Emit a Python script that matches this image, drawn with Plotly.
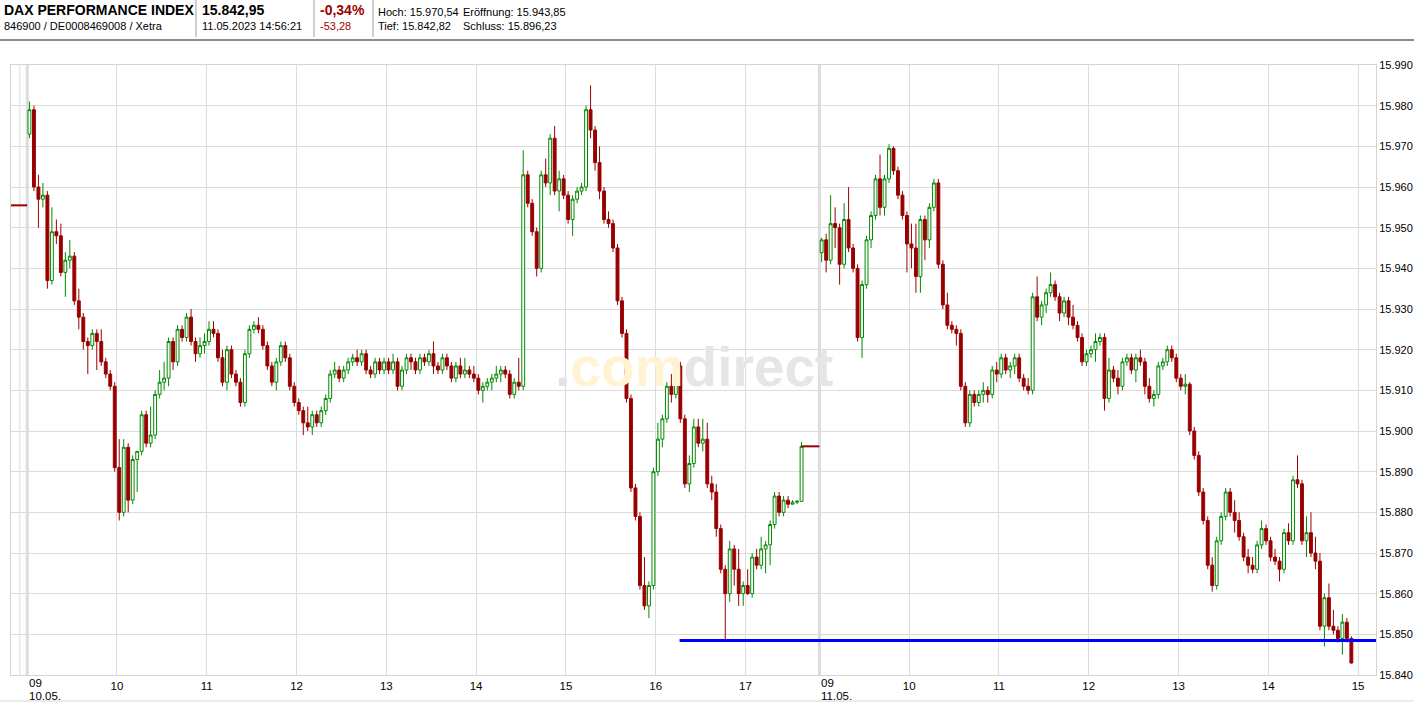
import plotly.graph_objects as go

# ---------------- data (3-minute candles) ----------------
prev_close = 15955.49          # close of 09.05. (flat line before the open)
day1_label = "10.05."
day2_label = "11.05."
day1_open = 15973
day2_open = 15943.85
day1_close_auction = 15896.23
support_level = 15848.5
support_start = "16:16"        # start of the blue support line on day 1

close_d1 = [15979,15960,15957,15958,15937,15949,15948,15939,15942,15943,
            15932,15928,15922,15921,15924,15922,15917,15914,15911,15891,
            15880,15896,15883,15893,15895,15904,15897,15899,15909,15912,
            15913,15922,15917,15925,15923,15928,15922,15919,15921,15922,
            15925,15924,15918,15912,15920,15914,15912,15907,15919,15925,
            15926,15925,15921,15916,15912,15917,15921,15918,15911,15907,
            15905,15902,15901,15904,15902,15905,15908,15914,15915,15913,
            15915,15917,15918,15917,15919,15915,15914,15917,15915,15917,
            15915,15917,15911,15915,15918,15917,15915,15918,15917,15919,
            15916,15915,15918,15916,15913,15916,15914,15915,15914,15913,
            15910,15911,15912,15913,15914,15915,15914,15909,15912,15911,
            15963,15956,15949,15940,15963,15961,15972,15959,15962,15958,
            15952,15957,15959,15960,15979,15974,15966,15959,15952,15951,
            15945,15932,15924,15908,15886,15879,15862,15857,15862,15890,
            15898,15903,15911,15909,15916,15903,15887,15892,15901,15897,
            15898,15887,15885,15876,15866,15860,15871,15866,15860,15862,
            15860,15869,15867,15871,15872,15877,15884,15880,15883,15882,
            15882.5,15882.7,15896.23]
high_d1 = [15981,15980,15963,15961,15959,15955,15952,15951,15944,15947,
           15944,15935,15929,15923,15925,15925,15925,15918,15915,15912,
           15898,15898,15897,15894,15895,15905,15905,15906,15910,15915,
           15917,15923,15923,15926,15926,15929,15930,15923,15923,15924,
           15927,15927,15925,15920,15921,15921,15915,15913,15920,15926,
           15927,15928,15926,15922,15917,15918,15922,15922,15919,15912,
           15908,15906,15906,15905,15905,15906,15909,15915,15917,15916,
           15916,15918,15919,15920,15920,15920,15916,15918,15918,15918,
           15918,15919,15918,15916,15919,15919,15918,15919,15919,15920,
           15922,15917,15919,15919,15917,15917,15918,15918,15916,15916,
           15914,15912,15913,15914,15916,15916,15916,15915,15913,15918,
           15969,15964,15957,15950,15964,15967,15973,15975,15964,15963,
           15959,15958,15960,15961,15980,15985,15975,15970,15960,15954,
           15952,15946,15933,15925,15909,15887,15880,15869,15863,15891,
           15902,15904,15912,15914,15918,15917,15904,15894,15903,15903,
           15903,15902,15889,15887,15877,15867,15873,15872,15871,15863,
           15866,15870,15871,15874,15873,15878,15885,15885,15884,15884,
           15883,15883,15897.3]
low_d1 = [15972,15959,15950,15955,15935,15936,15946,15938,15933,15940,
          15931,15925,15920,15914,15920,15915,15916,15913,15910,15890,
          15878,15879,15880,15882,15885,15894,15896,15896,15898,15908,
          15910,15911,15915,15916,15922,15922,15921,15917,15918,15919,
          15921,15923,15917,15911,15910,15913,15911,15906,15906,15918,
          15924,15924,15920,15915,15911,15910,15916,15917,15910,15906,
          15904,15899,15900,15899,15901,15901,15904,15907,15913,15912,
          15912,15914,15916,15916,15916,15914,15913,15913,15914,15914,
          15914,15914,15910,15910,15914,15915,15914,15914,15916,15916,
          15914,15914,15914,15915,15912,15912,15913,15913,15913,15912,
          15909,15907,15910,15910,15912,15912,15913,15908,15908,15910,
          15910,15955,15948,15938,15939,15960,15958,15958,15954,15957,
          15951,15948,15956,15958,15959,15972,15964,15957,15951,15950,
          15944,15931,15923,15907,15885,15878,15861,15856,15854,15861,
          15889,15896,15902,15907,15908,15902,15886,15885,15891,15896,
          15895,15886,15883,15874,15865,15848.6,15858,15862,15857,15857,
          15859.7,15859,15866,15866,15865,15867,15876,15879,15879,15881,
          15882,15882,15882.7]

close_d2 = [15947,15942,15951,15950,15941,15952,15945,15940,15923,15936,
            15947,15953,15962,15955,15962,15969.5,15964,15958,15953,15946,
            15945,15938,15952,15947,15955,15961,15941,15931,15926,15925,
            15924,15911,15902,15909,15907,15909,15910,15909,15915,15914,
            15918,15915,15916,15918,15913,15911,15910,15933,15928,15931,
            15934,15936,15933,15929,15932,15928,15926,15923,15917,15919,
            15920,15922,15923,15908,15915,15913,15911,15917,15918,15915,
            15918,15917,15911,15908,15909,15916,15917,15920,15918,15913,
            15911,15911.5,15900,15894,15885,15878,15867,15862,15873,15879,
            15885,15880,15878,15874,15869,15867,15866,15872,15876,15873,
            15869,15868,15866,15875,15873,15888,15887,15873,15875,15870,
            15868,15852,15859,15852,15851,15849,15853,15849,15842.95]
high_d2 = [15947.5,15948.5,15958,15955,15951,15956,15960,15946,15941,15937,
           15948,15954,15963,15968,15963,15970.5,15970,15965,15959,15954,
           15951,15951,15953,15953,15956,15962,15962,15942,15934,15927,
           15926,15925,15912,15910,15910,15910,15912,15911,15916,15917,
           15919,15919,15917,15919,15919,15914,15913,15934,15938,15932,
           15935,15939,15937,15934,15933,15933,15931,15927,15924,15920,
           15921,15924,15924,15924,15918,15916,15915,15918,15919,15919,
           15919,15920,15918,15913,15910,15917,15918,15921,15921,15919,
           15914,15914,15912,15901,15895,15886,15879,15869,15874,15880,
           15886,15886,15883,15880,15875,15871,15869,15873,15878,15877,
           15874,15871,15869,15876,15877.3,15889,15894,15888,15879,15880,
           15874,15870,15860,15862.5,15856,15852,15855,15854,15849.5]
low_d2 = [15941.5,15939,15941,15945,15936,15940,15944,15939,15922,15918,
          15935,15945,15952,15953,15953,15961,15963,15957,15952,15939,
          15940,15934,15934,15942,15945,15954,15940,15930,15925,15924,
          15921,15910,15901,15901,15906,15906,15907,15907,15908,15912,
          15913,15914,15913,15914,15912,15910,15909,15909,15927,15926,
          15929,15933,15932,15927,15928,15926,15925,15922,15916,15916,
          15918,15917,15921,15905,15907,15912,15909,15910,15916,15914,
          15912,15916,15909,15907,15906,15908,15915,15916,15917,15912,
          15910,15909,15899,15893,15884,15877,15866,15860.5,15861,15872,
          15878,15879,15875,15873,15868,15865,15865,15865,15871,15872,
          15868,15867,15863,15865,15872,15872,15886,15872,15869,15869,
          15866,15851,15847,15851,15850,15848,15845,15848,15842.82]

day1_hours = [10, 11, 12, 13, 14, 15, 16, 17]
day2_hours = [10, 11, 12, 13, 14, 15]
y_ticks = list(range(15840, 15991, 10))

header_name = "DAX PERFORMANCE INDEX"
header_ids = "846900 / DE0008469008 / Xetra"
header_last = "15.842,95"
header_time = "11.05.2023 14:56:21"
header_pct = "-0,34%"
header_abs = "-53,28"
header_hoch = "Hoch: 15.970,54"
header_eroeff = "Eröffnung: 15.943,85"
header_tief = "Tief: 15.842,82"
header_schluss = "Schluss: 15.896,23"

# ---------------- layout constants ----------------
W, H = 1414, 703
ML, MR, MT, MB = 11, 38, 65, 28
PW, PH = W - ML - MR, H - MT - MB
CANDLE_MIN = 3
DAY2_OFFSET = 8.824           # compressed overnight gap (hours on the axis)
X_MIN, X_MAX = -0.1804, 15.0234
FONT = "Liberation Sans, Arial, sans-serif"
GREEN = "#008a00"
RED = "#990000"
GRID = "#dcdcdc"


def px_x(px):
    return (px - ML) / PW


def px_y(py):
    return (H - MB - py) / PH


def x_pos(day_offset, n):
    return [day_offset + (i * CANDLE_MIN + CANDLE_MIN / 2) / 60 for i in range(n)]


x1 = x_pos(0.0, len(close_d1))
x2 = x_pos(DAY2_OFFSET, len(close_d2))
open_d1 = [day1_open] + close_d1[:-1]
open_d2 = [day2_open] + close_d2[:-1]

fig = go.Figure()

# watermark (drawn first, beneath the candles)
fig.add_trace(go.Scatter(
    x=[7.43], y=[15914.5], mode="text",
    text=['<span style="color:#e3e3e3">.</span><span style="color:#fff3d4">com</span>'
          '<span style="color:#e6e6e6">direct</span>'],
    textposition="middle center",
    textfont=dict(family=FONT, size=55, weight="bold"),
    hoverinfo="skip", showlegend=False))

# previous close flat line
fig.add_trace(go.Scatter(x=[X_MIN, 0], y=[prev_close, prev_close], mode="lines",
                         line=dict(color=RED, width=2), hoverinfo="skip", showlegend=False))
# closing flat line after the auction
fig.add_trace(go.Scatter(x=[x1[-1], DAY2_OFFSET], y=[day1_close_auction, day1_close_auction],
                         mode="lines", line=dict(color=RED, width=2),
                         hoverinfo="skip", showlegend=False))

fig.add_trace(go.Candlestick(
    x=x1 + x2,
    open=open_d1 + open_d2,
    high=high_d1 + high_d2,
    low=low_d1 + low_d2,
    close=close_d1 + close_d2,
    increasing=dict(line=dict(color=GREEN, width=1), fillcolor="#ffffff"),
    decreasing=dict(line=dict(color=RED, width=1), fillcolor=RED),
    whiskerwidth=0, showlegend=False, hoverinfo="skip"))

# blue support line
hh, mm = support_start.split(":")
sup_x0 = int(hh) - 9 + int(mm) / 60
fig.add_trace(go.Scatter(x=[sup_x0, X_MAX], y=[support_level, support_level], mode="lines",
                         line=dict(color="#0000ff", width=3), hoverinfo="skip", showlegend=False))

tickvals = [h - 9 for h in day1_hours] + [DAY2_OFFSET + h - 9 for h in day2_hours]
ticktext = [f"{h:02d}" for h in day1_hours] + [f"{h:02d}" for h in day2_hours]

shapes = []
# day separators
for xd in (0.0, DAY2_OFFSET):
    shapes.append(dict(type="line", xref="x", yref="paper", x0=xd, x1=xd, y0=0, y1=1,
                       line=dict(color=GRID, width=3), layer="below"))
shapes.append(dict(type="line", xref="x", yref="paper", x0=-0.082, x1=-0.082, y0=0, y1=1,
                   line=dict(color=GRID, width=1), layer="below"))
# header frame lines
shapes.append(dict(type="line", xref="paper", yref="paper", x0=px_x(0), x1=px_x(W),
                   y0=px_y(40), y1=px_y(40), line=dict(color="#8c8c8c", width=2)))
for sx in (196, 314, 373):
    shapes.append(dict(type="line", xref="paper", yref="paper", x0=px_x(sx), x1=px_x(sx),
                       y0=px_y(0), y1=px_y(37), line=dict(color="#a0a0a0", width=1)))
shapes.append(dict(type="line", xref="paper", yref="paper", x0=px_x(0), x1=px_x(W),
                   y0=px_y(701), y1=px_y(701), line=dict(color="#d8d8d8", width=1)))

ann = []


def text(px, py, s, size=11, color="#000", bold=False):
    ann.append(dict(xref="paper", yref="paper", x=px_x(px), y=px_y(py), text=s,
                    showarrow=False, xanchor="left", yanchor="middle",
                    font=dict(family=FONT, size=size, color=color,
                              weight="bold" if bold else "normal")))


text(2, 10, header_name, 14, bold=True)
text(2, 26, header_ids, 11)
text(200, 10, header_last, 14, bold=True)
text(200, 26, header_time, 11)
text(318, 10, header_pct, 14, color="#a00000", bold=True)
text(318, 26, header_abs, 11, color="#a00000")
text(376, 12, header_hoch, 11)
text(461, 12, header_eroeff, 11)
text(376, 26, header_tief, 11)
text(461, 26, header_schluss, 11)

# day-start labels on the time axis
for xd, lab in ((0.0, day1_label), (DAY2_OFFSET, day2_label)):
    ann.append(dict(xref="x", yref="paper", x=xd, y=px_y(683), text="09", showarrow=False,
                    xanchor="left", yanchor="middle", font=dict(family=FONT, size=11.5, color="#000")))
    ann.append(dict(xref="x", yref="paper", x=xd, y=px_y(696), text=lab, showarrow=False,
                    xanchor="left", yanchor="middle", font=dict(family=FONT, size=11.5, color="#000")))

fig.update_layout(
    width=W, height=H,
    margin=dict(l=ML, r=MR, t=MT, b=MB, autoexpand=False),
    paper_bgcolor="#ffffff", plot_bgcolor="#ffffff",
    template="none", showlegend=False, hovermode=False,
    boxgap=0.2, boxgroupgap=0.2,
    font=dict(family=FONT, size=11.5, color="#000"),
    shapes=shapes, annotations=ann,
    xaxis=dict(range=[X_MIN, X_MAX], tickvals=tickvals, ticktext=ticktext,
               showgrid=True, gridcolor=GRID, gridwidth=1, zeroline=False,
               showline=True, linecolor="#d4d4d4", linewidth=1, mirror=True,
               ticks="", tickfont=dict(size=11.5, color="#000"),
               rangeslider=dict(visible=False), automargin=False, fixedrange=True),
    yaxis=dict(range=[15840, 15990], side="right", tickvals=y_ticks,
               ticktext=[f"{v:,}".replace(",", ".") for v in y_ticks],
               showgrid=True, gridcolor=GRID, gridwidth=1, zeroline=False,
               showline=True, linecolor="#d4d4d4", linewidth=1, mirror=True,
               ticks="", tickfont=dict(size=11, color="#000"),
               automargin=False, fixedrange=True),
)

fig.write_html("out.html", config={"displayModeBar": False},
               post_script="document.body.style.margin='0px';document.body.style.padding='0px';")
